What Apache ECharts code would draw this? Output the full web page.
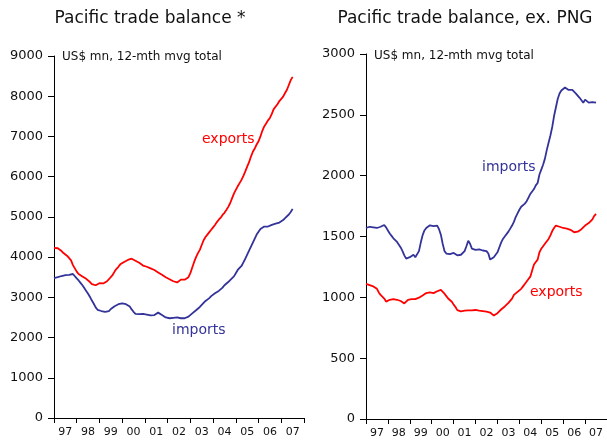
<!DOCTYPE html>
<html>
<head>
<meta charset="utf-8">
<script src="https://cdn.jsdelivr.net/npm/echarts@6/dist/echarts.min.js"></script>
<style>
html,body{margin:0;padding:0;background:#fff;}
#c{width:607px;height:441px;}
</style>
</head>
<body>
<div id="c"></div>
<script>
// Year labels on the x axis
const yearLabels = ['97','98','99','00','01','02','03','04','05','06','07'];

// Monthly values, Jan 1997 .. Jul 2007 (US$ mn, 12-mth moving total)
// Left panel: Pacific trade balance *
const exportsAll = [
  4230,4240,4220,4180,4150,4100,4060,4030,3990,3920,3800,3720,
  3640,3580,3550,3520,3480,3460,3420,3380,3330,3290,3300,3340,
  3350,3340,3345,3360,3400,3450,3490,3560,3640,3710,3760,3820,
  3860,3880,3910,3930,3950,3960,3940,3910,3880,3860,3820,3790,
  3770,3760,3740,3720,3710,3680,3650,3620,3600,3560,3530,3500,
  3480,3450,3420,3400,3380,3370,3390,3440,3450,3440,3460,3500,
  3600,3740,3880,4000,4100,4180,4300,4420,4500,4560,4620,4680,
  4740,4800,4870,4930,4980,5050,5100,5170,5250,5340,5460,5580,
  5670,5760,5840,5920,6020,6130,6250,6360,6500,6620,6700,6800,
  6880,7000,7140,7250,7320,7400,7460,7560,7680,7720,7800,7880,
  7920,7990,8080,8160,8280,8400,8480
];
const importsAll = [
  3480,3490,3500,3520,3530,3540,3550,3555,3560,3575,3580,3540,
  3470,3420,3360,3300,3230,3160,3090,3010,2920,2840,2750,2690,
  2670,2660,2650,2640,2630,2660,2710,2740,2780,2800,2830,2850,
  2850,2840,2830,2820,2770,2700,2640,2590,2580,2580,2590,2590,
  2580,2570,2560,2550,2540,2560,2590,2620,2610,2560,2520,2500,
  2480,2480,2480,2490,2500,2500,2500,2480,2470,2480,2500,2520,
  2560,2600,2640,2680,2720,2760,2800,2860,2910,2950,2980,3030,
  3070,3100,3120,3160,3200,3240,3300,3340,3380,3430,3470,3520,
  3600,3680,3730,3780,3870,3960,4060,4160,4260,4360,4460,4560,
  4630,4700,4740,4760,4770,4760,4780,4800,4820,4830,4850,4860,
  4880,4920,4970,5010,5060,5120,5200
];
// Right panel: Pacific trade balance, ex. PNG
const exportsExPNG = [
  1110,1105,1100,1100,1090,1080,1070,1040,1020,1020,990,965,
  970,980,985,985,980,980,978,970,960,950,965,980,
  978,985,990,985,990,997,1005,1015,1025,1035,1040,1041,
  1040,1035,1040,1050,1060,1062,1050,1030,1010,990,975,964,
  940,920,895,882,885,888,890,885,892,895,893,896,
  896,893,890,888,886,885,882,878,875,860,850,860,
  870,885,900,915,925,940,955,970,990,1020,1035,1045,
  1050,1070,1090,1110,1130,1150,1170,1220,1270,1290,1310,1370,
  1400,1420,1440,1455,1480,1510,1545,1570,1590,1595,1580,1575,
  1570,1568,1565,1560,1555,1545,1535,1525,1540,1545,1560,1575,
  1590,1600,1610,1615,1640,1670,1685
];
const importsExPNG = [
  1570,1575,1580,1590,1575,1565,1570,1575,1580,1585,1595,1575,
  1550,1525,1505,1485,1470,1455,1440,1410,1380,1345,1318,1320,
  1330,1340,1350,1330,1325,1380,1450,1510,1550,1570,1580,1592,
  1590,1585,1580,1590,1560,1515,1440,1380,1360,1365,1355,1360,
  1365,1350,1345,1335,1350,1365,1380,1420,1465,1440,1400,1390,
  1390,1400,1395,1390,1385,1390,1380,1360,1310,1315,1330,1345,
  1370,1410,1450,1480,1500,1515,1540,1565,1590,1620,1660,1690,
  1720,1745,1760,1770,1790,1820,1850,1860,1890,1920,1940,2010,
  2050,2090,2140,2210,2270,2330,2400,2490,2560,2630,2675,2700,
  2715,2725,2710,2705,2710,2705,2690,2675,2660,2640,2620,2600,
  2625,2615,2600,2610,2605,2608,2600
];

const RED = '#ff0000';
const BLUE = '#333399';
const FONT = 'DejaVu Sans';

function toXY(arr){ return arr.map((v,i)=>[i, v]); }

const chart = echarts.init(document.getElementById('c'), null, {renderer:'canvas'});

function catAxis(gridIndex){
  return {
    type:'category', gridIndex, data: yearLabels, boundaryGap:true, position:'bottom',
    axisLine:{show:true, lineStyle:{color:'#000', width:1}},
    axisTick:{show:true, inside:false, length:5, interval:0, alignWithLabel:false, lineStyle:{color:'#000'}},
    axisLabel:{show:true, interval:0, color:'#111', fontFamily:FONT, fontSize:11, margin:9},
    splitLine:{show:false}
  };
}
function valXAxis(gridIndex){
  return {type:'value', gridIndex, min:0, max:132, show:false, splitLine:{show:false}};
}
function yAxis(gridIndex, max, interval){
  return {
    type:'value', gridIndex, min:0, max, interval,
    axisLine:{show:true, lineStyle:{color:'#000', width:1}},
    axisTick:{show:true, inside:false, length:6, lineStyle:{color:'#000'}},
    axisLabel:{color:'#111', fontFamily:FONT, fontSize:13, margin:11, formatter:(v)=>String(v)},
    splitLine:{show:false}
  };
}
function line(xi, yi, data, color){
  return {type:'line', xAxisIndex:xi, yAxisIndex:yi, data: toXY(data), symbol:'none',
    lineStyle:{color, width:1.8}, itemStyle:{color}, animation:false, z:3};
}
function txt(x, y, text, size, color, align){
  return {type:'text', x, y, style:{text, fontSize:size, fontFamily:FONT, fill:color,
    textAlign:align||'left', textVerticalAlign:'middle'}, z:10};
}

chart.setOption({
  animation:false,
  backgroundColor:'#fff',
  grid:[
    {left:54, top:56, width:250, bottom:23, containLabel:false},
    {left:366, top:54, width:244, bottom:22, containLabel:false}
  ],
  xAxis:[catAxis(0), valXAxis(0), catAxis(1), valXAxis(1)],
  yAxis:[yAxis(0, 9000, 1000), yAxis(1, 3000, 500)],
  series:[
    line(1, 0, exportsAll, RED),
    line(1, 0, importsAll, BLUE),
    line(3, 1, exportsExPNG, RED),
    line(3, 1, importsExPNG, BLUE)
  ],
  graphic:[
    txt(150, 19, 'Pacific trade balance *', 17, '#111', 'center'),
    txt(465, 19, 'Pacific trade balance, ex. PNG', 17, '#111', 'center'),
    txt(62, 57, 'US$ mn, 12-mth mvg total', 12, '#111'),
    txt(374, 56, 'US$ mn, 12-mth mvg total', 12, '#111'),
    txt(202, 139, 'exports', 14, RED),
    txt(172, 330, 'imports', 14, BLUE),
    txt(482, 167, 'imports', 14, BLUE),
    txt(530, 292, 'exports', 14, RED)
  ]
});
</script>
</body>
</html>
